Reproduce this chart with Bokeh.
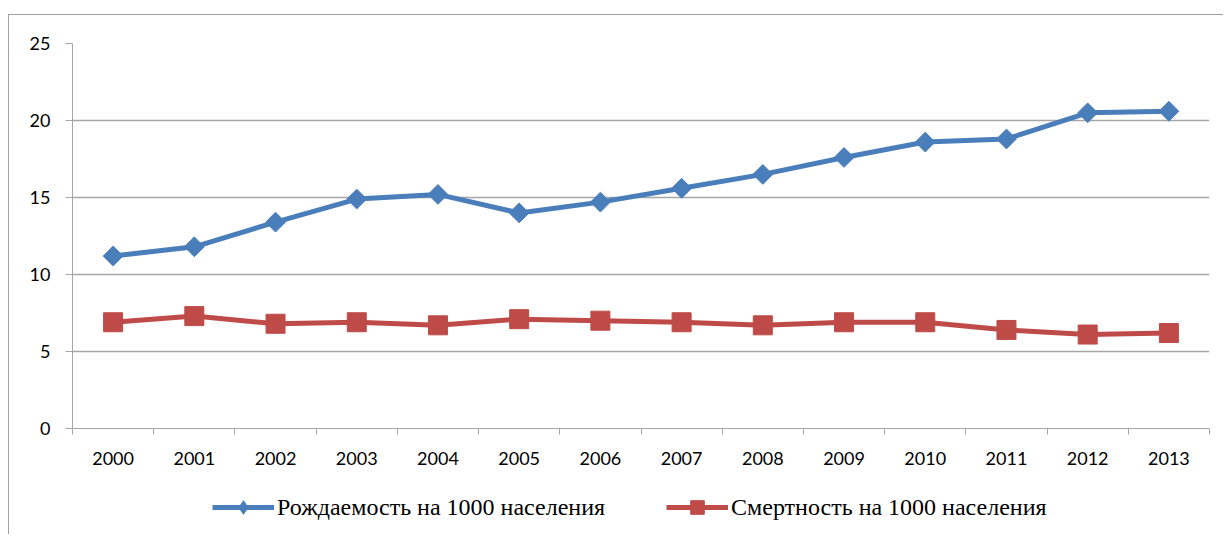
import math
from bokeh.plotting import figure
from bokeh.layouts import column
from bokeh.models import FixedTicker, Legend, LegendItem, Range1d, ColumnDataSource
from bokeh.embed import file_html
from bokeh.resources import INLINE

years = ["2000", "2001", "2002", "2003", "2004", "2005", "2006",
         "2007", "2008", "2009", "2010", "2011", "2012", "2013"]
births = [11.2, 11.8, 13.4, 14.9, 15.2, 14.0, 14.7, 15.6, 16.5, 17.6, 18.6, 18.8, 20.5, 20.6]
deaths = [6.9, 7.3, 6.8, 6.9, 6.7, 7.1, 7.0, 6.9, 6.7, 6.9, 6.9, 6.4, 6.1, 6.2]
y_ticks = [0, 5, 10, 15, 20, 25]
label_births = "Рождаемость на 1000 населения"
label_deaths = "Смертность на 1000 населения"

xs = list(range(len(years)))
src = ColumnDataSource(dict(x=xs, births=births, deaths=deaths))

BLUE = "#4a7ebb"
RED = "#be4b48"
GRID = "#a6a6a6"
W = 1214


def add_series(fig, diamond_marker, dangle, dsize, ssize):
    lb = fig.line("x", "births", source=src, line_color=BLUE, line_width=5)
    mb = fig.scatter("x", "births", source=src, marker=diamond_marker, angle=dangle,
                     size=dsize, fill_color=BLUE, line_color=BLUE)
    ld = fig.line("x", "deaths", source=src, line_color=RED, line_width=5)
    md = fig.scatter("x", "deaths", source=src, marker="square", size=ssize,
                     fill_color=RED, line_color=RED)
    return lb, mb, ld, md


p = figure(width=W, height=460, output_backend="svg", toolbar_location=None,
           x_range=Range1d(-0.5, len(years) - 0.5), y_range=Range1d(0, 25),
           min_border_left=63, min_border_right=14, min_border_top=28, min_border_bottom=47)
p.outline_line_color = None

# y axis
p.yaxis.ticker = FixedTicker(ticks=y_ticks)
p.yaxis.major_tick_out = 7
p.yaxis.major_tick_in = 0
p.yaxis.minor_tick_out = 0
p.yaxis.minor_tick_in = 0
p.yaxis.axis_line_color = GRID
p.yaxis.major_tick_line_color = GRID
p.yaxis.major_label_standoff = 15
p.yaxis.major_label_text_font = "Lato"
p.yaxis.major_label_text_font_size = "18px"
p.yaxis.major_label_text_color = "black"

# x axis: labels at category centers, ticks at category boundaries
p.xaxis.ticker = FixedTicker(ticks=xs, minor_ticks=[i - 0.5 for i in range(len(years) + 1)])
p.xaxis.major_label_overrides = {i: y for i, y in enumerate(years)}
p.xaxis.major_tick_out = 0
p.xaxis.major_tick_in = 0
p.xaxis.minor_tick_out = 6
p.xaxis.minor_tick_in = 0
p.xaxis.minor_tick_line_color = GRID
p.xaxis.axis_line_color = GRID
p.xaxis.major_label_standoff = 17
p.xaxis.major_label_text_font = "Lato"
p.xaxis.major_label_text_font_size = "18px"
p.xaxis.major_label_text_color = "black"

p.xgrid.grid_line_color = None
p.ygrid.grid_line_color = GRID
p.ygrid.grid_line_width = 1.3

add_series(p, "square", math.pi / 4, 14, 19)

# legend strip below the chart (series drawn off-range, only the legend shows)
pl = figure(width=W, height=59, output_backend="svg", toolbar_location=None,
            x_range=Range1d(-0.5, len(years) - 0.5), y_range=Range1d(100, 101),
            min_border_left=0, min_border_right=0, min_border_top=0, min_border_bottom=0)
pl.axis.visible = False
pl.grid.grid_line_color = None
pl.outline_line_color = None
lb, mb, ld, md = add_series(pl, "diamond", 0, 14, 19)

legend = Legend(items=[LegendItem(label=label_births, renderers=[lb, mb]),
                       LegendItem(label=label_deaths, renderers=[ld, md])],
                orientation="horizontal", location=(140, 10))
legend.glyph_width = 62
legend.glyph_height = 34
legend.label_standoff = 3
legend.spacing = 61
legend.padding = 0
legend.margin = 0
legend.border_line_color = None
legend.background_fill_alpha = 0
legend.label_text_font = "Liberation Serif"
legend.label_text_font_size = "24px"
legend.label_text_color = "black"
pl.add_layout(legend, "center")

layout = column(p, pl, spacing=0, margin=(14, 0, 0, 8),
                styles={"border-top": "1px solid #a0a0a0", "border-left": "1px solid #a0a0a0"})

open("out.html", "w").write(file_html(layout, INLINE))
